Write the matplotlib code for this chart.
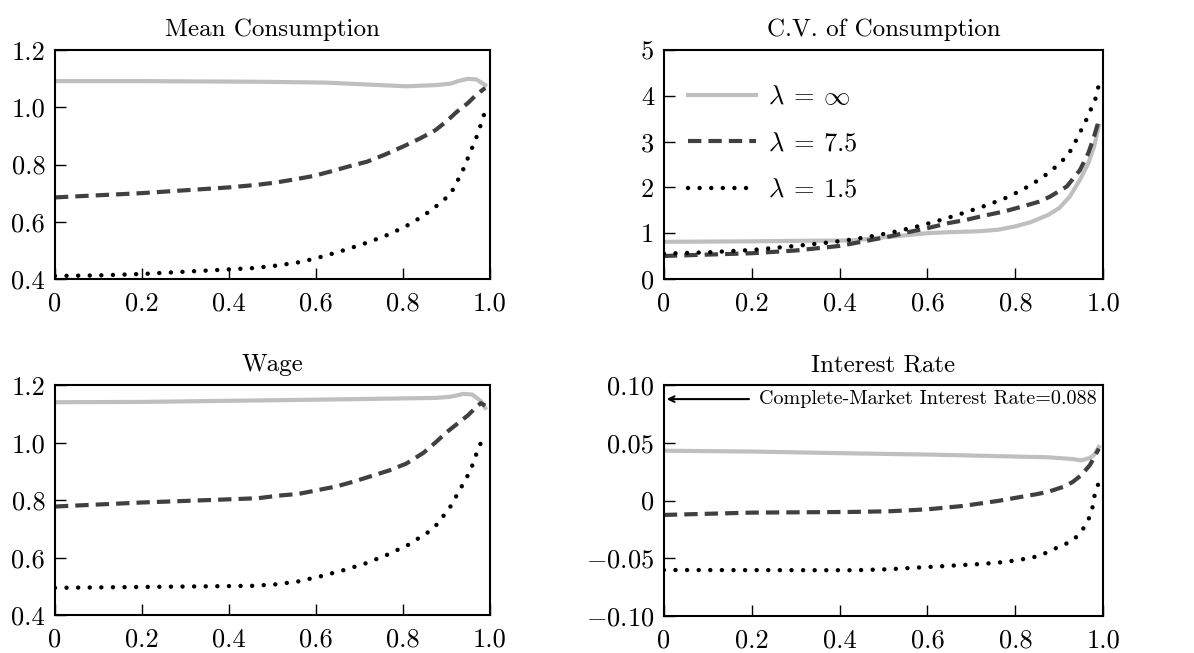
import numpy as np
import matplotlib
matplotlib.use("Agg")
import matplotlib.pyplot as plt

plt.rcParams['font.family'] = 'serif'
plt.rcParams['font.serif'] = ['cmr10']
plt.rcParams['mathtext.fontset'] = 'cm'
plt.rcParams['axes.unicode_minus'] = False

labels = [r'$\lambda\:=\:\infty$', r'$\lambda\:=\:7.5$', r'$\lambda\:=\:1.5$']

# Mean Consumption
mc_x_inf = [0, 0.2, 0.455, 0.621, 0.721, 0.808, 0.875, 0.91, 0.93, 0.95, 0.97, 0.99]
mc_inf = [1.092, 1.092, 1.090, 1.087, 1.080, 1.074, 1.078, 1.083, 1.093, 1.100, 1.098, 1.078]
mc_x_75 = [0, 0.2, 0.4, 0.465, 0.508, 0.555, 0.595, 0.635, 0.675, 0.718, 0.758, 0.801,
           0.841, 0.875, 0.9, 0.925, 0.95, 0.97, 0.99]
mc_75 = [0.685, 0.700, 0.720, 0.729, 0.737, 0.749, 0.760, 0.776, 0.793, 0.810, 0.834, 0.863,
         0.892, 0.920, 0.950, 0.985, 1.015, 1.045, 1.068]
mc_x_15 = [0, 0.1, 0.2, 0.3, 0.4, 0.46, 0.513, 0.566, 0.618, 0.669, 0.721, 0.771, 0.82,
           0.867, 0.91, 0.937, 0.96, 0.971, 0.981, 0.99]
mc_15 = [0.410, 0.412, 0.417, 0.425, 0.433, 0.438, 0.447, 0.459, 0.479, 0.502, 0.528, 0.557,
         0.594, 0.641, 0.696, 0.774, 0.859, 0.900, 0.944, 0.988]

# C.V. of Consumption
cv_x_inf = [0, 0.2, 0.3, 0.428, 0.482, 0.548, 0.601, 0.648, 0.715, 0.761, 0.801, 0.835,
            0.875, 0.9, 0.924, 0.947, 0.966, 0.979, 0.99]
cv_inf = [0.81, 0.82, 0.83, 0.84, 0.89, 0.95, 1.00, 1.02, 1.04, 1.075, 1.15, 1.24,
          1.40, 1.55, 1.80, 2.17, 2.53, 2.89, 3.35]
cv_x_75 = [0, 0.2, 0.3, 0.4, 0.468, 0.515, 0.555, 0.601, 0.648, 0.688, 0.728, 0.775, 0.815,
           0.855, 0.879, 0.917, 0.947, 0.966, 0.979, 0.99]
cv_75 = [0.50, 0.56, 0.62, 0.72, 0.843, 0.93, 1.02, 1.11, 1.22, 1.29, 1.38, 1.475, 1.58,
         1.69, 1.80, 2.02, 2.38, 2.75, 3.11, 3.47]
cv_x_15 = [0, 0.1, 0.2, 0.3, 0.38, 0.428, 0.479, 0.531, 0.583, 0.635, 0.685, 0.735, 0.786,
           0.833, 0.857, 0.88, 0.901, 0.92, 0.934, 0.947, 0.96, 0.971, 0.983, 0.99]
cv_15 = [0.55, 0.58, 0.63, 0.72, 0.80, 0.86, 0.94, 1.04, 1.16, 1.30, 1.45, 1.61, 1.80,
         2.04, 2.19, 2.35, 2.53, 2.71, 2.95, 3.20, 3.45, 3.69, 3.96, 4.25]

# Wage
wg_x_inf = [0, 0.2, 0.455, 0.655, 0.875, 0.91, 0.94, 0.96, 0.98, 0.99]
wg_inf = [1.141, 1.142, 1.147, 1.151, 1.156, 1.160, 1.170, 1.168, 1.145, 1.121]
wg_x_75 = [0, 0.2, 0.4, 0.468, 0.515, 0.561, 0.601, 0.648, 0.688, 0.728, 0.768, 0.808,
           0.848, 0.875, 0.9, 0.925, 0.95, 0.97, 0.98, 0.99]
wg_75 = [0.778, 0.792, 0.803, 0.807, 0.816, 0.822, 0.834, 0.848, 0.865, 0.884, 0.903, 0.927,
         0.965, 1.000, 1.035, 1.065, 1.095, 1.125, 1.138, 1.129]
wg_x_15 = [0, 0.2, 0.4, 0.455, 0.507, 0.559, 0.611, 0.663, 0.713, 0.763, 0.812, 0.858,
           0.88, 0.91, 0.94, 0.955, 0.965, 0.975, 0.99]
wg_15 = [0.495, 0.498, 0.501, 0.502, 0.507, 0.517, 0.535, 0.556, 0.579, 0.609, 0.644, 0.688,
         0.717, 0.778, 0.859, 0.900, 0.940, 0.985, 1.026]

# Interest Rate
ir_x_inf = [0, 0.2, 0.415, 0.615, 0.875, 0.93, 0.95, 0.97, 0.98, 0.99]
ir_inf = [0.0432, 0.0425, 0.041, 0.0398, 0.0375, 0.036, 0.0348, 0.037, 0.040, 0.0465]
ir_x_75 = [0, 0.2, 0.428, 0.515, 0.601, 0.681, 0.761, 0.848, 0.875, 0.91, 0.93, 0.95,
           0.97, 0.99]
ir_75 = [-0.0125, -0.0105, -0.0099, -0.0093, -0.0076, -0.0047, -0.0003, 0.0055, 0.0076,
         0.012, 0.016, 0.022, 0.031, 0.045]
ir_x_15 = [0, 0.2, 0.432, 0.513, 0.566, 0.62, 0.673, 0.726, 0.779, 0.832, 0.857, 0.88, 0.9,
           0.93, 0.95, 0.965, 0.975, 0.98, 0.99]
ir_15 = [-0.0603, -0.0604, -0.0605, -0.0596, -0.0584, -0.0573, -0.0561, -0.055, -0.0532,
         -0.050, -0.0477, -0.0435, -0.040, -0.035, -0.027, -0.018, -0.007, 0.004, 0.016]

complete_rate = 0.088

panels = [
    ("Mean Consumption", [(mc_x_inf, mc_inf), (mc_x_75, mc_75), (mc_x_15, mc_15)],
     (0.4, 1.2), [0.4, 0.6, 0.8, 1.0, 1.2], ['0.4', '0.6', '0.8', '1.0', '1.2']),
    ("C.V. of Consumption", [(cv_x_inf, cv_inf), (cv_x_75, cv_75), (cv_x_15, cv_15)],
     (0, 5), [0, 1, 2, 3, 4, 5], ['0', '1', '2', '3', '4', '5']),
    ("Wage", [(wg_x_inf, wg_inf), (wg_x_75, wg_75), (wg_x_15, wg_15)],
     (0.4, 1.2), [0.4, 0.6, 0.8, 1.0, 1.2], ['0.4', '0.6', '0.8', '1.0', '1.2']),
    ("Interest Rate", [(ir_x_inf, ir_inf), (ir_x_75, ir_75), (ir_x_15, ir_15)],
     (-0.1, 0.1), [-0.1, -0.05, 0, 0.05, 0.1], [r'$-0.10$', r'$-0.05$', '0', '0.05', '0.10']),
]

styles = [
    dict(color='#bfbfbf', lw=3, linestyle='-', solid_joinstyle='round'),
    dict(color='#404040', lw=3, linestyle=(0, (3.2, 1.7))),
    dict(color='black', lw=3.2, linestyle=(0, (0.01, 2.6)), dash_capstyle='round'),
]

rects = [
    [0.046, 0.573, 0.364, 0.350],
    [0.556, 0.573, 0.368, 0.350],
    [0.046, 0.058, 0.364, 0.352],
    [0.556, 0.057, 0.368, 0.353],
]

fig = plt.figure(figsize=(11.94, 6.53), dpi=100)

for i, (title, series, ylim, yt, ytl) in enumerate(panels):
    ax = fig.add_axes(rects[i])
    for (xs, ys), st, lab in zip(series, styles, labels):
        ax.plot(xs, ys, label=lab, **st)
    ax.set_xlim(0, 1)
    ax.set_ylim(*ylim)
    ax.set_xticks([0, 0.2, 0.4, 0.6, 0.8, 1.0])
    ax.set_xticklabels(['0', '0.2', '0.4', '0.6', '0.8', '1.0'])
    ax.set_yticks(yt)
    ax.set_yticklabels(ytl)
    ax.tick_params(direction='in', length=8, width=1, labelsize=19)
    ax.tick_params(axis='x', pad=9)
    ax.tick_params(axis='y', pad=7)
    for s in ax.spines.values():
        s.set_linewidth(1.5)
    ax.set_title(title, fontsize=18, pad=10)
    if i == 1:
        ax.legend(loc='upper left', bbox_to_anchor=(0.0, 0.95), frameon=False,
                  fontsize=19, handlelength=2.6, labelspacing=0.85, handletextpad=0.45)
    if i == 3:
        ax.annotate('', xy=(0.0, complete_rate), xytext=(0.2, complete_rate),
                    arrowprops=dict(arrowstyle='->', lw=1.5, color='black'))
        ax.text(0.985, complete_rate, 'Complete-Market Interest Rate=0.088',
                ha='right', va='center', fontsize=14.5)

fig.savefig('out.png', dpi=100)
